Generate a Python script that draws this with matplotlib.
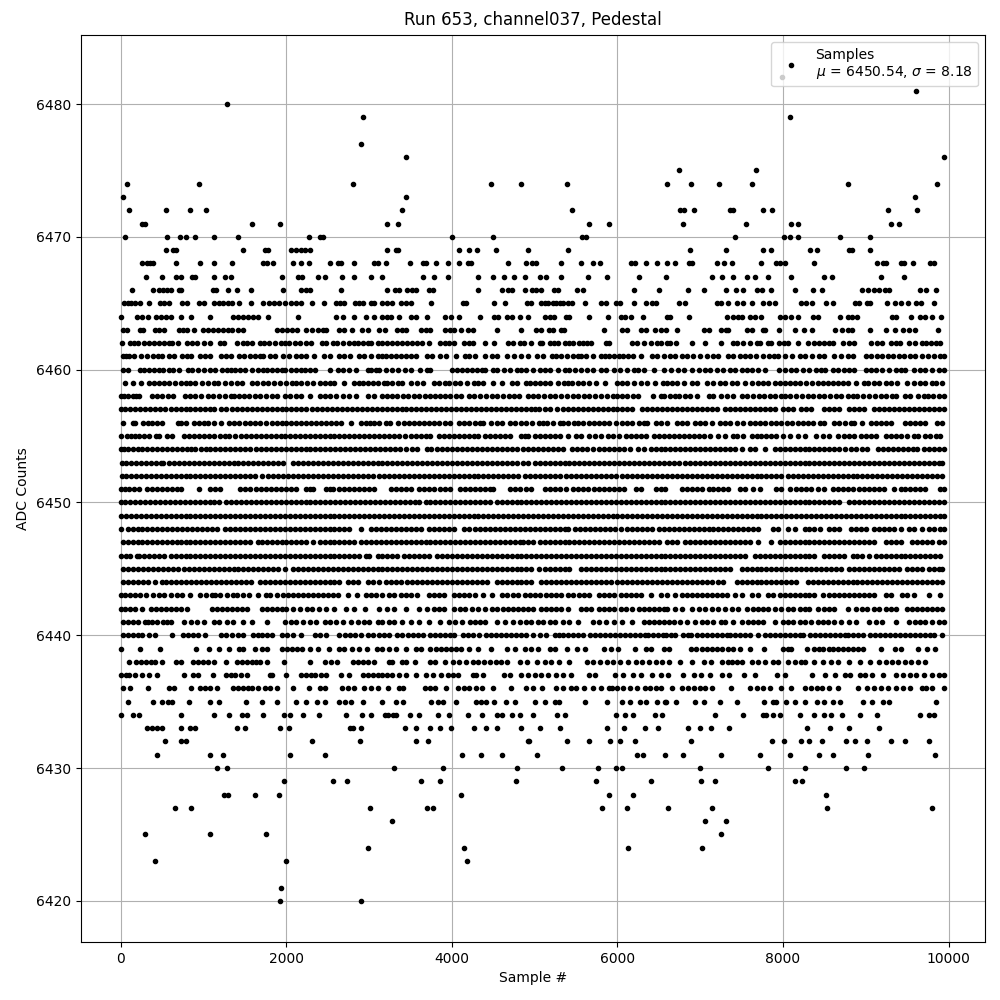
import matplotlib
matplotlib.use("Agg")
import matplotlib.pyplot as plt
import numpy as np

# sample numbers per ADC level, in units of 10 samples
r6482 = [799]
r6481 = [961]
r6480 = [128]
r6479 = [293, 809]
r6477 = [290]
r6476 = [344, 995]
r6475 = [674, 767]
r6474 = [7, 94, 280, 447, 484, 539, 660, 689, 723, 763, 879, 986]
r6473 = [2, 345, 960]
r6472 = [10, 55, 84, 103, 339, 545, 675, 680, 692, 736, 740, 776, 787, 927, 962]
r6471 = [26, 29, 158, 192, 321, 335, 565, 590, 679, 755, 810, 818, 931, 940]
r6470 = [5, 56, 71, 78, 90, 113, 142, 227, 240, 244, 400, 449, 557, 562, 742, 801, 809, 818, 869, 905]
r6469 = [54, 63, 66, 148, 174, 178, 205, 212, 217, 222, 229, 321, 332, 335, 409, 420, 430, 453, 492, 540, 688, 731, 776, 786, 833, 841, 880, 883, 905]
r6468 = [26, 32, 35, 39, 67, 96, 113, 134, 172, 176, 184, 208, 217, 227, 252, 262, 266, 281, 306, 310, 320, 349, 365, 369, 381, 395, 408, 419, 423, 468, 489, 497, 502, 532, 556, 570, 579, 616, 621, 634, 648, 660, 669, 687, 690, 720, 729, 738, 773, 791, 796, 803, 838, 914, 921, 925, 942, 946, 957, 978, 982]
r6467 = [30, 50, 67, 73, 86, 90, 112, 126, 133, 194, 214, 219, 238, 246, 267, 281, 302, 315, 365, 378, 395, 432, 450, 463, 475, 488, 506, 514, 532, 564, 587, 626, 659, 714, 726, 740, 757, 766, 782, 810, 850, 859, 919, 946]
r6466 = [13, 39, 46, 51, 56, 60, 70, 73, 111, 115, 129, 140, 157, 196, 218, 224, 229, 266, 322, 331, 336, 346, 352, 357, 372, 377, 432, 460, 468, 473, 488, 497, 502, 507, 523, 528, 551, 558, 620, 650, 685, 705, 731, 743, 752, 769, 775, 786, 814, 836, 847, 896, 903, 910, 916, 923, 928, 966, 973, 985]
r6465 = [4, 8, 12, 17, 23, 34, 47, 52, 58, 74, 80, 94, 100, 113, 118, 123, 129, 134, 143, 157, 172, 179, 185, 191, 198, 205, 211, 218, 231, 245, 260, 265, 269, 283, 288, 293, 302, 306, 316, 322, 328, 338, 344, 350, 375, 413, 417, 451, 464, 491, 496, 508, 512, 516, 522, 526, 530, 534, 540, 545, 561, 580, 586, 598, 603, 620, 635, 642, 647, 674, 682, 720, 725, 734, 744, 752, 763, 776, 783, 790, 822, 828, 835, 852, 860, 887, 892, 902, 905, 926, 935, 943, 951, 961, 967, 982]
r6464 = [0, 19, 25, 33, 42, 48, 54, 60, 73, 85, 107, 135, 141, 147, 153, 159, 166, 178, 214, 260, 268, 282, 296, 306, 315, 322, 326, 336, 350, 356, 370, 392, 399, 408, 434, 451, 456, 467, 472, 482, 492, 512, 518, 523, 538, 542, 565, 589, 604, 609, 616, 631, 660, 664, 686, 732, 740, 746, 751, 760, 766, 773, 796, 803, 810, 818, 836, 842, 869, 878, 883, 889, 932, 937, 955, 965, 971, 980, 991]
r6463 = [3, 7, 23, 27, 41, 46, 52, 70, 75, 80, 88, 99, 105, 111, 117, 123, 129, 134, 142, 148, 188, 194, 201, 207, 213, 224, 231, 238, 244, 248, 263, 269, 279, 291, 298, 312, 319, 334, 339, 344, 362, 369, 373, 391, 397, 403, 411, 419, 425, 455, 484, 502, 508, 517, 522, 532, 535, 584, 605, 611, 628, 635, 645, 653, 659, 672, 705, 711, 725, 731, 734, 756, 762, 776, 778, 795, 815, 825, 835, 863, 871, 879, 883, 905, 925, 935, 945, 952, 960, 987]
r6462 = [1, 11, 16, 20, 28, 34, 40, 46, 52, 58, 62, 69, 80, 86, 92, 100, 107, 120, 125, 140, 147, 152, 158, 168, 173, 179, 186, 193, 198, 203, 210, 216, 223, 230, 243, 248, 256, 261, 268, 275, 282, 286, 292, 298, 302, 310, 315, 322, 328, 334, 340, 346, 352, 358, 364, 372, 385, 391, 396, 403, 415, 420, 425, 440, 451, 468, 474, 482, 487, 496, 506, 509, 518, 523, 528, 536, 541, 546, 553, 558, 563, 568, 586, 590, 617, 624, 632, 640, 648, 652, 660, 664, 671, 690, 706, 725, 739, 745, 752, 760, 768, 772, 782, 786, 795, 801, 806, 818, 830, 838, 843, 849, 855, 860, 872, 880, 886, 906, 913, 920, 930, 936, 941, 952, 960, 968, 973, 979, 985, 990]
r6461 = [2, 6, 10, 16, 24, 32, 39, 45, 49, 58, 64, 74, 80, 85, 95, 102, 107, 121, 127, 133, 143, 149, 156, 162, 168, 172, 180, 186, 196, 203, 211, 217, 224, 233, 245, 252, 263, 270, 277, 288, 294, 302, 310, 316, 320, 326, 332, 338, 344, 350, 356, 370, 376, 386, 393, 405, 416, 421, 428, 440, 448, 455, 467, 475, 484, 492, 503, 510, 521, 526, 532, 539, 546, 552, 556, 562, 571, 580, 585, 590, 596, 602, 607, 613, 619, 628, 642, 648, 656, 664, 670, 678, 684, 691, 700, 708, 716, 722, 733, 740, 748, 754, 760, 767, 776, 783, 789, 794, 803, 811, 820, 826, 835, 843, 850, 862, 870, 878, 885, 900, 906, 913, 920, 927, 933, 940, 946, 953, 959, 968, 975, 982, 990, 995]
r6460 = [2, 8, 23, 28, 34, 40, 46, 51, 58, 63, 70, 81, 86, 93, 100, 108, 114, 122, 128, 133, 138, 144, 150, 158, 165, 172, 176, 182, 188, 194, 198, 205, 212, 217, 222, 228, 235, 252, 262, 268, 276, 284, 298, 302, 308, 312, 320, 328, 335, 343, 350, 361, 370, 374, 400, 406, 412, 418, 424, 430, 436, 440, 450, 455, 463, 470, 478, 483, 490, 498, 506, 512, 518, 528, 536, 542, 549, 556, 563, 570, 580, 586, 596, 603, 611, 620, 625, 632, 644, 656, 665, 673, 680, 690, 698, 706, 712, 720, 728, 736, 742, 750, 756, 762, 770, 778, 795, 803, 810, 816, 824, 832, 840, 846, 851, 860, 866, 874, 880, 886, 900, 906, 912, 920, 928, 936, 942, 948, 958, 966, 972, 980, 988, 994]
r6459 = [5, 14, 24, 34, 40, 46, 52, 58, 65, 72, 78, 84, 90, 98, 105, 112, 117, 126, 133, 140, 146, 158, 164, 172, 178, 185, 192, 200, 207, 212, 218, 225, 232, 240, 246, 252, 258, 270, 282, 288, 293, 298, 304, 310, 318, 322, 328, 335, 340, 350, 358, 365, 378, 384, 392, 396, 404, 410, 418, 426, 432, 438, 450, 460, 473, 478, 490, 494, 500, 506, 512, 518, 528, 535, 540, 545, 552, 558, 565, 574, 585, 600, 606, 612, 620, 628, 636, 645, 655, 660, 666, 672, 680, 690, 696, 708, 716, 724, 730, 738, 744, 754, 763, 770, 776, 782, 790, 796, 802, 808, 815, 820, 828, 835, 842, 848, 854, 860, 866, 872, 878, 888, 898, 903, 910, 916, 924, 930, 938, 950, 958, 965, 972, 980, 985, 992]
r6458 = [0, 4, 8, 14, 18, 22, 37, 43, 50, 57, 63, 77, 84, 90, 97, 105, 111, 118, 126, 133, 137, 143, 149, 155, 162, 168, 175, 182, 188, 198, 204, 211, 218, 228, 240, 246, 253, 260, 268, 276, 284, 298, 306, 315, 321, 328, 334, 341, 347, 354, 360, 367, 373, 380, 386, 392, 398, 405, 411, 421, 427, 434, 441, 448, 455, 462, 469, 475, 481, 492, 498, 504, 511, 518, 525, 532, 539, 546, 552, 559, 566, 573, 580, 587, 595, 599, 606, 612, 619, 625, 643, 653, 656, 664, 670, 674, 681, 688, 696, 710, 716, 725, 732, 740, 751, 757, 764, 771, 777, 784, 790, 797, 803, 809, 816, 823, 830, 836, 843, 850, 857, 864, 870, 878, 884, 890, 897, 904, 911, 918, 925, 932, 937, 947, 954, 963, 970, 975, 981, 988, 995]
r6457 = [0, 5, 11, 17, 23, 29, 35, 41, 47, 53, 60, 66, 72, 78, 84, 90, 96, 102, 108, 113, 121, 127, 134, 140, 146, 152, 158, 164, 170, 176, 182, 188, 194, 200, 206, 212, 218, 224, 231, 237, 243, 249, 255, 261, 267, 273, 279, 285, 291, 297, 303, 309, 315, 321, 327, 333, 339, 345, 351, 357, 363, 369, 375, 381, 387, 393, 399, 405, 411, 417, 423, 429, 435, 441, 447, 453, 459, 465, 471, 477, 483, 489, 495, 500, 505, 512, 519, 527, 534, 540, 546, 552, 558, 564, 570, 576, 582, 588, 594, 600, 606, 612, 618, 630, 636, 642, 648, 654, 660, 666, 672, 678, 684, 690, 696, 702, 708, 714, 720, 730, 736, 742, 748, 754, 760, 766, 772, 778, 784, 790, 800, 806, 812, 822, 828, 834, 850, 856, 862, 868, 880, 886, 892, 898, 910, 916, 922, 928, 934, 940, 946, 952, 958, 964, 970, 976, 982, 988, 994]
r6456 = [3, 14, 17, 27, 33, 38, 43, 49, 69, 73, 79, 88, 94, 100, 105, 112, 121, 130, 137, 143, 150, 156, 162, 168, 175, 182, 188, 194, 200, 206, 212, 218, 224, 230, 236, 242, 248, 254, 260, 266, 278, 290, 296, 301, 306, 312, 320, 325, 335, 342, 348, 354, 360, 366, 372, 378, 384, 392, 398, 409, 415, 420, 428, 434, 438, 447, 454, 460, 470, 476, 483, 490, 497, 505, 510, 515, 522, 530, 534, 540, 547, 552, 558, 566, 572, 578, 584, 590, 598, 606, 612, 618, 626, 632, 636, 646, 652, 660, 672, 678, 684, 694, 700, 706, 714, 724, 730, 736, 745, 752, 760, 766, 772, 778, 785, 792, 798, 805, 811, 818, 824, 830, 836, 845, 850, 862, 868, 875, 882, 886, 896, 906, 912, 918, 924, 930, 948, 953, 960, 966, 972, 986, 992]
r6455 = [0, 7, 12, 17, 22, 28, 34, 42, 46, 56, 62, 76, 82, 88, 94, 100, 106, 112, 120, 126, 130, 138, 145, 151, 157, 163, 169, 175, 181, 187, 193, 198, 204, 210, 216, 222, 228, 234, 240, 246, 252, 258, 264, 270, 276, 282, 288, 294, 300, 306, 312, 318, 324, 330, 336, 343, 350, 356, 362, 368, 374, 384, 390, 396, 402, 408, 414, 420, 426, 432, 440, 446, 452, 458, 464, 470, 484, 488, 492, 500, 506, 512, 518, 524, 530, 540, 550, 556, 566, 573, 580, 588, 594, 602, 610, 616, 622, 628, 634, 644, 650, 656, 662, 668, 674, 680, 686, 692, 698, 704, 712, 722, 730, 740, 745, 752, 762, 768, 774, 780, 786, 792, 800, 808, 818, 826, 840, 848, 856, 866, 874, 880, 886, 894, 900, 906, 912, 924, 930, 936, 942, 950, 958, 963, 972, 978, 985, 990]
r6454 = [0, 4, 9, 15, 20, 25, 31, 37, 44, 50, 56, 62, 68, 74, 80, 85, 90, 97, 103, 108, 114, 120, 126, 132, 138, 144, 150, 156, 163, 169, 175, 181, 187, 193, 199, 205, 211, 217, 223, 229, 235, 241, 247, 253, 259, 265, 271, 277, 283, 289, 295, 301, 307, 313, 319, 325, 331, 337, 345, 352, 358, 370, 375, 382, 388, 394, 400, 406, 412, 418, 424, 430, 436, 442, 448, 454, 460, 466, 472, 478, 486, 492, 498, 504, 510, 516, 522, 528, 534, 545, 551, 557, 563, 570, 578, 584, 590, 596, 602, 608, 615, 625, 632, 640, 646, 652, 658, 664, 670, 676, 682, 688, 694, 700, 706, 712, 718, 724, 730, 736, 742, 750, 760, 766, 778, 790, 796, 802, 808, 814, 820, 826, 832, 838, 844, 850, 856, 862, 868, 875, 882, 888, 896, 902, 915, 921, 927, 933, 939, 945, 951, 957, 962, 970, 976, 982, 988, 994]
r6453 = [1, 6, 12, 18, 24, 30, 36, 42, 48, 51, 58, 64, 70, 76, 82, 88, 94, 100, 106, 112, 118, 124, 130, 136, 142, 148, 154, 160, 166, 172, 178, 184, 190, 196, 208, 214, 220, 226, 232, 238, 244, 250, 256, 262, 268, 274, 280, 286, 292, 298, 304, 310, 316, 322, 328, 334, 340, 346, 352, 358, 364, 370, 376, 382, 388, 394, 400, 406, 412, 418, 424, 430, 436, 442, 448, 454, 460, 466, 472, 478, 486, 492, 500, 506, 512, 518, 524, 530, 536, 542, 548, 554, 560, 566, 572, 578, 584, 590, 596, 602, 608, 614, 620, 626, 632, 638, 644, 650, 656, 662, 668, 674, 682, 688, 694, 700, 706, 712, 718, 724, 730, 736, 742, 748, 754, 760, 766, 772, 778, 784, 790, 796, 802, 808, 814, 820, 826, 832, 838, 844, 850, 856, 862, 868, 874, 880, 886, 892, 898, 904, 910, 916, 922, 928, 934, 940, 946, 952, 958, 964, 970, 976, 982, 988, 992]
r6452 = [1, 6, 12, 18, 24, 30, 36, 42, 48, 54, 60, 66, 72, 78, 84, 90, 96, 102, 108, 114, 120, 126, 132, 138, 144, 150, 156, 162, 170, 178, 184, 190, 196, 202, 208, 214, 220, 226, 232, 238, 244, 250, 256, 262, 268, 274, 280, 286, 292, 298, 304, 312, 318, 324, 330, 336, 342, 348, 354, 360, 366, 372, 378, 384, 390, 396, 402, 408, 414, 420, 426, 432, 438, 444, 450, 456, 462, 468, 474, 480, 488, 494, 500, 506, 512, 518, 524, 530, 538, 544, 550, 556, 562, 568, 574, 580, 586, 592, 598, 605, 612, 618, 624, 630, 636, 642, 648, 654, 660, 666, 672, 678, 684, 690, 696, 702, 708, 714, 720, 726, 732, 738, 744, 750, 756, 762, 768, 774, 780, 786, 792, 798, 806, 812, 818, 824, 830, 836, 842, 848, 854, 860, 866, 872, 878, 884, 890, 896, 902, 908, 914, 920, 926, 932, 938, 944, 950, 956, 962, 968, 974, 980, 986, 992]
r6451 = [0, 5, 10, 16, 22, 32, 38, 44, 50, 56, 62, 68, 73, 94, 108, 114, 120, 144, 150, 156, 163, 169, 175, 181, 187, 193, 199, 205, 211, 224, 228, 232, 248, 252, 256, 264, 270, 276, 282, 288, 294, 300, 306, 326, 332, 338, 344, 350, 360, 366, 372, 378, 386, 392, 398, 410, 416, 422, 428, 434, 440, 446, 450, 470, 476, 482, 490, 496, 512, 518, 524, 530, 538, 546, 552, 558, 564, 572, 578, 584, 590, 596, 602, 608, 622, 628, 646, 652, 658, 678, 684, 690, 696, 702, 710, 716, 722, 728, 734, 748, 754, 764, 772, 792, 798, 808, 816, 822, 828, 834, 842, 850, 860, 866, 872, 878, 884, 892, 898, 904, 910, 916, 922, 934, 942, 948, 954, 960, 966, 972, 990, 994]
r6450 = [0, 5, 11, 17, 23, 29, 35, 41, 47, 53, 59, 65, 71, 77, 83, 89, 95, 101, 107, 113, 119, 127, 133, 139, 145, 151, 157, 163, 169, 175, 181, 187, 193, 199, 205, 211, 217, 223, 229, 235, 241, 247, 253, 259, 265, 271, 277, 283, 289, 295, 301, 307, 313, 319, 325, 331, 337, 343, 349, 355, 360, 368, 374, 380, 386, 392, 398, 404, 410, 416, 422, 428, 434, 440, 446, 454, 460, 466, 472, 478, 484, 490, 496, 502, 508, 514, 520, 526, 532, 538, 544, 550, 556, 562, 568, 574, 580, 586, 592, 598, 604, 610, 616, 622, 628, 634, 640, 646, 652, 658, 664, 670, 676, 682, 688, 694, 700, 706, 712, 718, 724, 730, 736, 742, 748, 754, 760, 766, 772, 778, 784, 790, 796, 802, 808, 814, 820, 826, 832, 838, 844, 850, 856, 862, 868, 880, 886, 892, 898, 904, 910, 916, 922, 928, 934, 940, 946, 952, 958, 964, 970, 976, 982, 988, 994]
r6449 = [0, 6, 12, 18, 24, 30, 36, 42, 48, 54, 60, 66, 72, 78, 84, 90, 96, 102, 108, 114, 120, 126, 132, 138, 144, 150, 156, 162, 168, 174, 180, 186, 192, 198, 204, 210, 216, 222, 228, 234, 240, 246, 252, 258, 264, 270, 276, 282, 288, 294, 300, 306, 312, 318, 324, 330, 336, 342, 348, 354, 360, 366, 372, 378, 384, 390, 396, 402, 408, 414, 420, 426, 432, 438, 444, 450, 456, 462, 468, 474, 480, 486, 492, 498, 504, 510, 516, 522, 528, 534, 540, 546, 552, 558, 564, 570, 576, 582, 588, 594, 600, 606, 612, 618, 624, 630, 636, 642, 648, 654, 660, 666, 672, 678, 684, 690, 696, 702, 708, 714, 720, 726, 732, 738, 744, 750, 756, 762, 768, 774, 780, 786, 792, 798, 804, 810, 816, 822, 828, 834, 840, 846, 852, 858, 864, 870, 876, 882, 888, 894, 900, 906, 912, 918, 924, 930, 936, 942, 948, 954, 960, 966, 972, 978, 984, 990, 995]
r6448 = [0, 8, 14, 20, 26, 32, 38, 44, 50, 56, 62, 68, 74, 80, 86, 92, 98, 104, 110, 116, 126, 132, 138, 144, 150, 156, 162, 168, 174, 180, 186, 192, 198, 204, 210, 216, 222, 228, 234, 240, 246, 252, 258, 264, 270, 276, 290, 302, 308, 314, 320, 326, 332, 338, 344, 350, 356, 362, 372, 378, 384, 390, 396, 402, 414, 420, 428, 434, 440, 446, 452, 458, 464, 470, 476, 482, 488, 494, 500, 506, 512, 518, 524, 530, 536, 540, 549, 555, 561, 567, 573, 579, 585, 591, 597, 604, 611, 617, 623, 630, 636, 642, 650, 656, 662, 668, 674, 680, 686, 692, 698, 704, 710, 716, 722, 728, 734, 740, 746, 752, 758, 764, 770, 788, 794, 806, 814, 826, 832, 838, 845, 856, 862, 868, 882, 888, 894, 900, 910, 916, 922, 928, 934, 942, 952, 958, 968, 976, 982, 990, 995]
r6447 = [2, 8, 14, 20, 26, 32, 38, 44, 50, 56, 62, 68, 72, 78, 84, 90, 96, 102, 108, 114, 120, 126, 132, 138, 144, 150, 156, 165, 170, 176, 182, 188, 194, 200, 206, 212, 218, 224, 232, 240, 246, 252, 258, 264, 270, 276, 282, 290, 296, 302, 308, 314, 320, 326, 332, 338, 344, 350, 356, 362, 368, 374, 380, 386, 392, 398, 404, 410, 416, 422, 428, 434, 440, 446, 452, 458, 464, 470, 476, 482, 486, 492, 498, 506, 512, 518, 524, 530, 536, 542, 548, 554, 560, 566, 572, 578, 584, 590, 596, 602, 608, 614, 620, 626, 632, 638, 644, 650, 660, 666, 672, 682, 688, 694, 700, 706, 712, 718, 724, 730, 736, 742, 748, 754, 760, 770, 786, 796, 802, 808, 814, 820, 826, 832, 838, 844, 850, 856, 862, 868, 874, 880, 886, 892, 898, 904, 910, 924, 930, 936, 942, 956, 962, 968, 974, 980, 988, 994]
r6446 = [0, 6, 11, 19, 22, 28, 34, 40, 46, 52, 60, 66, 72, 78, 84, 90, 96, 102, 108, 114, 120, 126, 132, 138, 144, 150, 156, 162, 168, 174, 180, 186, 192, 198, 204, 210, 216, 222, 228, 234, 240, 246, 252, 258, 264, 270, 276, 282, 288, 296, 300, 310, 316, 322, 328, 334, 342, 348, 354, 360, 366, 372, 382, 388, 394, 400, 406, 412, 418, 424, 430, 436, 442, 448, 454, 460, 466, 472, 478, 484, 490, 496, 502, 508, 514, 520, 526, 532, 538, 544, 550, 556, 562, 568, 574, 580, 586, 592, 598, 604, 610, 616, 622, 628, 634, 640, 646, 652, 658, 664, 670, 676, 682, 688, 694, 700, 706, 712, 718, 724, 730, 736, 742, 748, 754, 766, 772, 778, 784, 790, 796, 802, 808, 814, 820, 826, 832, 838, 850, 856, 862, 868, 874, 884, 890, 896, 904, 912, 918, 924, 930, 936, 942, 948, 954, 960, 966, 972, 978, 984, 990]
r6445 = [3, 9, 15, 21, 27, 33, 39, 45, 51, 57, 63, 69, 76, 82, 88, 94, 100, 106, 112, 118, 124, 130, 136, 142, 148, 154, 160, 166, 172, 178, 184, 190, 198, 208, 214, 220, 226, 232, 238, 244, 250, 256, 262, 268, 274, 280, 286, 292, 298, 304, 310, 316, 322, 328, 334, 340, 346, 352, 358, 364, 370, 376, 382, 388, 394, 400, 406, 412, 418, 424, 430, 436, 442, 448, 454, 460, 466, 472, 478, 484, 490, 496, 505, 512, 518, 524, 530, 536, 542, 556, 562, 568, 574, 580, 586, 592, 598, 604, 610, 616, 622, 628, 634, 640, 646, 652, 658, 664, 670, 676, 682, 688, 694, 700, 706, 712, 718, 724, 730, 736, 750, 756, 762, 768, 774, 780, 786, 792, 798, 804, 810, 816, 822, 828, 834, 840, 846, 852, 858, 864, 870, 880, 886, 892, 898, 904, 910, 916, 922, 928, 934, 940, 950, 956, 962, 968, 976, 982, 988, 992]
r6444 = [3, 9, 15, 21, 27, 33, 41, 49, 55, 61, 67, 73, 79, 85, 91, 97, 103, 109, 115, 121, 127, 133, 139, 145, 151, 157, 168, 174, 180, 186, 192, 198, 204, 210, 216, 222, 228, 234, 240, 246, 252, 258, 264, 274, 280, 286, 298, 304, 312, 320, 326, 332, 338, 346, 352, 358, 364, 370, 376, 382, 388, 394, 400, 406, 412, 418, 424, 430, 436, 442, 454, 460, 466, 472, 478, 484, 490, 496, 508, 514, 520, 526, 532, 538, 544, 550, 556, 562, 568, 574, 580, 586, 592, 600, 606, 612, 618, 624, 630, 636, 642, 648, 654, 660, 666, 672, 678, 684, 690, 696, 702, 708, 714, 722, 728, 744, 750, 756, 762, 768, 774, 780, 786, 792, 798, 804, 810, 816, 830, 836, 842, 848, 854, 860, 866, 872, 878, 884, 890, 896, 902, 908, 914, 920, 926, 932, 938, 944, 950, 956, 962, 968, 974, 980, 986, 992]
r6443 = [0, 5, 11, 17, 23, 30, 39, 46, 52, 60, 68, 74, 84, 95, 103, 110, 114, 120, 128, 135, 140, 148, 155, 165, 175, 180, 188, 196, 202, 208, 214, 220, 226, 232, 238, 244, 250, 256, 262, 274, 285, 296, 302, 308, 316, 324, 330, 338, 344, 350, 358, 372, 378, 384, 390, 402, 408, 414, 420, 428, 438, 448, 460, 466, 474, 480, 488, 494, 500, 506, 514, 520, 526, 532, 540, 546, 554, 560, 566, 578, 584, 590, 596, 604, 610, 616, 622, 628, 640, 652, 660, 670, 678, 684, 690, 696, 702, 708, 714, 720, 726, 732, 742, 750, 762, 770, 782, 788, 796, 802, 808, 814, 820, 826, 832, 838, 848, 856, 862, 868, 874, 880, 886, 892, 898, 904, 910, 924, 930, 944, 950, 958, 976, 990]
r6442 = [0, 5, 11, 17, 26, 36, 42, 48, 54, 60, 66, 72, 80, 110, 116, 122, 128, 134, 140, 146, 152, 170, 176, 182, 188, 194, 200, 208, 216, 225, 231, 239, 248, 258, 272, 282, 295, 312, 322, 330, 345, 360, 370, 378, 384, 390, 402, 410, 416, 424, 432, 440, 448, 454, 462, 468, 474, 480, 486, 492, 498, 508, 514, 520, 526, 532, 540, 556, 562, 568, 578, 584, 590, 596, 604, 610, 618, 626, 632, 638, 644, 650, 656, 660, 670, 678, 690, 698, 706, 714, 722, 730, 738, 746, 756, 764, 770, 776, 782, 790, 798, 806, 812, 820, 826, 832, 842, 850, 856, 862, 878, 888, 896, 902, 910, 916, 924, 930, 936, 950, 956, 962, 968, 974, 980, 986, 992]
r6441 = [3, 8, 14, 20, 29, 33, 37, 44, 51, 56, 60, 76, 85, 92, 100, 112, 118, 128, 135, 148, 158, 176, 198, 206, 212, 220, 228, 236, 246, 252, 260, 268, 278, 286, 294, 300, 310, 316, 324, 330, 340, 350, 360, 372, 386, 396, 404, 412, 422, 428, 434, 440, 454, 464, 474, 482, 490, 496, 504, 510, 518, 524, 534, 542, 552, 570, 578, 586, 596, 606, 618, 632, 638, 644, 650, 656, 662, 668, 676, 684, 694, 702, 708, 716, 725, 730, 740, 750, 758, 764, 770, 776, 790, 800, 806, 812, 820, 826, 834, 842, 848, 854, 862, 870, 880, 888, 904, 912, 920, 936, 952, 960, 966, 972, 980, 988, 995]
r6440 = [2, 8, 14, 20, 26, 34, 41, 62, 75, 81, 87, 93, 101, 121, 127, 134, 141, 147, 159, 165, 171, 177, 183, 195, 201, 208, 218, 234, 240, 248, 263, 271, 277, 283, 290, 298, 304, 312, 318, 324, 333, 339, 347, 353, 359, 365, 373, 379, 385, 391, 397, 403, 413, 419, 425, 433, 441, 447, 453, 459, 465, 471, 477, 484, 490, 498, 506, 514, 524, 529, 534, 540, 546, 552, 558, 567, 573, 579, 585, 591, 597, 603, 609, 615, 621, 627, 633, 637, 643, 649, 655, 659, 665, 669, 679, 685, 689, 696, 702, 708, 714, 720, 726, 732, 736, 742, 748, 754, 760, 770, 778, 784, 790, 796, 802, 808, 814, 820, 824, 833, 839, 845, 851, 857, 863, 869, 875, 879, 885, 891, 897, 905, 911, 917, 923, 929, 935, 941, 947, 953, 959, 965, 972, 978, 982, 992]
r6439 = [0, 23, 47, 91, 106, 118, 130, 143, 147, 162, 171, 177, 195, 201, 207, 213, 219, 229, 238, 251, 263, 270, 279, 288, 297, 309, 316, 324, 332, 345, 357, 363, 373, 381, 387, 393, 399, 405, 411, 421, 431, 447, 466, 476, 488, 496, 504, 518, 524, 539, 551, 561, 584, 592, 601, 621, 635, 641, 656, 662, 689, 695, 702, 708, 714, 720, 726, 734, 740, 748, 760, 777, 800, 806, 810, 829, 837, 843, 848, 855, 861, 867, 873, 879, 885, 891, 897, 919, 935, 943, 963, 974, 984]
r6438 = [10, 18, 24, 30, 36, 41, 50, 66, 73, 87, 93, 99, 105, 113, 127, 140, 146, 152, 158, 163, 168, 177, 197, 228, 247, 254, 261, 280, 286, 292, 299, 306, 324, 328, 339, 345, 355, 374, 380, 391, 401, 408, 417, 425, 432, 439, 446, 453, 459, 467, 482, 491, 503, 512, 520, 529, 542, 563, 571, 579, 587, 595, 603, 613, 622, 630, 638, 646, 654, 662, 675, 690, 704, 713, 726, 733, 738, 745, 750, 762, 770, 778, 788, 794, 806, 815, 822, 827, 837, 848, 858, 866, 880, 893, 905, 916, 925, 932, 939, 947, 955, 963, 972]
r6437 = [0, 6, 10, 17, 26, 34, 44, 76, 87, 93, 111, 127, 133, 138, 145, 152, 180, 183, 199, 218, 224, 230, 234, 242, 248, 266, 275, 292, 298, 304, 310, 316, 322, 328, 336, 345, 357, 369, 377, 387, 395, 401, 407, 425, 429, 437, 463, 470, 484, 492, 500, 508, 516, 526, 534, 544, 565, 573, 597, 607, 619, 629, 642, 653, 661, 679, 693, 701, 712, 726, 735, 753, 766, 793, 802, 835, 851, 863, 875, 881, 893, 899, 907, 921, 936, 945, 953, 961, 970, 980, 988, 995]
r6436 = [3, 11, 33, 58, 64, 85, 95, 102, 107, 116, 135, 141, 148, 154, 158, 165, 174, 180, 188, 208, 227, 241, 247, 267, 274, 282, 294, 302, 310, 323, 336, 341, 367, 373, 380, 393, 407, 414, 421, 429, 436, 449, 471, 490, 498, 509, 526, 534, 544, 550, 560, 570, 580, 590, 593, 599, 607, 615, 623, 633, 639, 647, 653, 666, 678, 685, 693, 700, 706, 714, 737, 760, 768, 776, 784, 798, 810, 826, 834, 841, 847, 855, 866, 891, 901, 910, 919, 927, 937, 945, 953, 968, 973, 980, 994]
r6435 = [9, 39, 49, 57, 62, 82, 107, 119, 151, 171, 188, 212, 224, 237, 246, 263, 271, 278, 293, 316, 332, 341, 375, 383, 389, 405, 429, 435, 441, 451, 465, 476, 500, 513, 524, 529, 561, 587, 605, 615, 627, 635, 648, 657, 659, 671, 694, 704, 724, 745, 777, 788, 792, 804, 815, 826, 841, 849, 861, 869, 897, 907, 921, 928, 985]
r6434 = [0, 14, 22, 72, 113, 130, 146, 152, 172, 197, 204, 220, 239, 272, 291, 302, 319, 323, 329, 332, 349, 360, 383, 396, 419, 436, 455, 460, 472, 482, 498, 527, 536, 598, 609, 619, 645, 654, 718, 752, 776, 780, 788, 796, 821, 837, 850, 858, 871, 893, 914, 965, 977, 983]
r6433 = [31, 37, 44, 50, 73, 83, 90, 140, 150, 192, 203, 277, 280, 290, 343, 356, 374, 385, 399, 427, 441, 455, 484, 506, 531, 587, 608, 633, 649, 685, 700, 713, 735, 829, 857, 880, 916]
r6432 = [53, 73, 78, 231, 289, 356, 371, 492, 493, 539, 565, 591, 603, 621, 689, 787, 801, 822, 832, 847, 876, 887, 902, 931, 948, 976]
r6431 = [44, 108, 123, 204, 247, 412, 435, 460, 503, 623, 631, 658, 679, 725, 772, 808, 844, 861, 903, 984]
r6430 = [116, 128, 330, 389, 478, 533, 577, 598, 605, 700, 782, 826, 876, 898]
r6429 = [197, 256, 273, 363, 386, 477, 574, 641, 701, 718, 815, 823]
r6428 = [125, 129, 162, 191, 411, 590, 619, 852]
r6427 = [65, 85, 301, 370, 377, 581, 612, 661, 714, 853, 980]
r6426 = [328, 706, 731]
r6425 = [29, 107, 175, 725]
r6424 = [299, 414, 613, 702]
r6423 = [41, 199, 418]
r6421 = [193]
r6420 = [192, 290]

levels = [6482, 6481, 6480, 6479, 6477, 6476, 6475, 6474, 6473, 6472, 6471, 6470, 6469, 6468, 6467, 6466,
          6465, 6464, 6463, 6462, 6461, 6460, 6459, 6458, 6457, 6456, 6455, 6454, 6453, 6452, 6451, 6450,
          6449, 6448, 6447, 6446, 6445, 6444, 6443, 6442, 6441, 6440, 6439, 6438, 6437, 6436, 6435, 6434,
          6433, 6432, 6431, 6430, 6429, 6428, 6427, 6426, 6425, 6424, 6423, 6421, 6420]
rows = [r6482, r6481, r6480, r6479, r6477, r6476, r6475, r6474, r6473, r6472, r6471, r6470, r6469, r6468, r6467, r6466,
        r6465, r6464, r6463, r6462, r6461, r6460, r6459, r6458, r6457, r6456, r6455, r6454, r6453, r6452, r6451, r6450,
        r6449, r6448, r6447, r6446, r6445, r6444, r6443, r6442, r6441, r6440, r6439, r6438, r6437, r6436, r6435, r6434,
        r6433, r6432, r6431, r6430, r6429, r6428, r6427, r6426, r6425, r6424, r6423, r6421, r6420]

x = np.concatenate([np.array(r) * 10 for r in rows])
y = np.concatenate([[lv] * len(r) for lv, r in zip(levels, rows)])

fig, ax = plt.subplots(figsize=(10, 10))
ax.plot(x, y, 'k.', label='Samples\n$\\mu$ = 6450.54, $\\sigma$ = 8.18')
ax.set_xlabel('Sample #')
ax.set_ylabel('ADC Counts')
ax.set_title('Run 653, channel037, Pedestal', pad=7)
ax.set_xlim(-483, 10441)
ax.set_ylim(6416.9, 6485.2)
ax.legend(loc='upper right')
ax.grid(True)

fig.subplots_adjust(left=0.081, right=0.985, top=0.965, bottom=0.058)
plt.savefig('out.png', dpi=100)
